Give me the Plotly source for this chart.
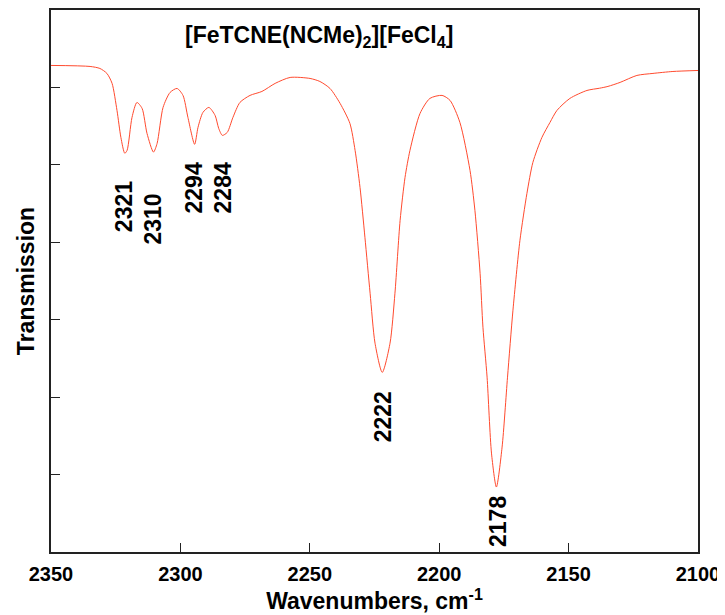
import plotly.graph_objects as go

# Spectrum (wavenumber in cm^-1, transmission in arbitrary units)
wavenumber = [2350.0, 2334.9, 2331.1, 2328.4, 2326.4, 2324.5, 2323.0, 2321.5, 2320.6, 2318.7,
              2316.8, 2314.8, 2312.9, 2310.4, 2309.0, 2306.7, 2304.0, 2301.3, 2299.0, 2297.1,
              2294.5, 2293.2, 2291.3, 2289.0, 2286.6, 2285.2, 2283.8, 2281.9, 2279.7, 2277.0,
              2273.1, 2268.5, 2263.4, 2257.6, 2249.9, 2246.1, 2242.2, 2238.3, 2234.5, 2232.5,
              2230.6, 2228.7, 2226.7, 2224.8, 2222.0, 2219.0, 2217.1, 2215.1, 2213.2, 2211.3,
              2207.4, 2203.6, 2198.9, 2195.8, 2192.0, 2188.1, 2186.2, 2184.2, 2183.1, 2181.5,
              2179.8, 2177.9, 2175.7, 2173.6, 2171.5, 2168.8, 2166.1, 2163.8, 2160.3, 2157.2,
              2154.5, 2149.5, 2142.9, 2138.0, 2134.8, 2130.1, 2123.6, 2117.4, 2109.7, 2100.0]
transmission = [6.284, 6.271, 6.245, 6.181, 6.052, 5.703, 5.355, 5.150, 5.187, 5.613,
                5.806, 5.729, 5.406, 5.165, 5.277, 5.742, 5.935, 5.987, 5.897, 5.613,
                5.265, 5.484, 5.677, 5.742, 5.639, 5.471, 5.381, 5.419, 5.613, 5.806,
                5.897, 5.948, 6.052, 6.129, 6.116, 6.077, 5.987, 5.794, 5.535, 5.187,
                4.710, 4.065, 3.342, 2.697, 2.320, 2.697, 3.342, 4.284, 4.839, 5.187,
                5.665, 5.858, 5.897, 5.832, 5.548, 4.929, 4.413, 3.600, 2.903, 2.258,
                1.277, 0.839, 1.355, 2.258, 3.123, 4.026, 4.632, 5.032, 5.355, 5.548,
                5.703, 5.858, 5.961, 5.990, 6.013, 6.065, 6.155, 6.181, 6.206, 6.219]

# Peak labels: text, x position (cm^-1) and y position (transmission units)
peak_labels = ["2321", "2310", "2294", "2284", "2222", "2178"]
peak_label_x = [2322.0, 2310.4, 2294.6, 2283.4, 2221.7, 2177.3]
peak_label_y = [4.46, 4.30, 4.70, 4.70, 1.74, 0.40]

x_ticks = [2350, 2300, 2250, 2200, 2150, 2100]
y_ticks = [0, 1, 2, 3, 4, 5, 6, 7]

title_text = "[FeTCNE(NCMe)<sub>2</sub>][FeCl<sub>4</sub>]"
x_title = "Wavenumbers, cm<sup>-1</sup>"
y_title = "Transmission"

FONT = "Liberation Sans, Arial, sans-serif"

fig = go.Figure()
fig.add_trace(go.Scatter(
    x=wavenumber, y=transmission, mode="lines",
    line=dict(color="#FF4A2E", width=1, shape="spline", smoothing=0.7),
    hoverinfo="skip", showlegend=False,
))

for t, xv, yv in zip(peak_labels, peak_label_x, peak_label_y):
    fig.add_annotation(
        x=xv, y=yv, xref="x", yref="y", text="<b>%s</b>" % t,
        showarrow=False, textangle=-90,
        font=dict(family=FONT, size=23, color="black"),
        xanchor="center", yanchor="middle",
    )

fig.add_annotation(
    x=0.414, y=0.952, xref="paper", yref="paper", text="<b>%s</b>" % title_text,
    showarrow=False, font=dict(family=FONT, size=23, color="black"),
    xanchor="center", yanchor="middle",
)

# The page body adds an 8px margin, so the figure is sized to fit the 725x615 window.
fig.update_layout(
    width=717, height=607,
    margin=dict(l=43, r=27, t=2, b=63),
    paper_bgcolor="white", plot_bgcolor="white",
    font=dict(family=FONT, color="black"),
    showlegend=False,
)
fig.update_xaxes(
    range=[2350, 2100], tickvals=x_ticks, ticktext=["<b>%d</b>" % v for v in x_ticks],
    ticks="inside", ticklen=9, tickwidth=1, tickcolor="#222",
    showline=True, linecolor="#222", linewidth=1.5, mirror=True,
    showgrid=False, zeroline=False,
    tickfont=dict(family=FONT, size=20, color="black"),
    ticklabelstandoff=3,
    title=dict(text="<b>%s</b>" % x_title, font=dict(family=FONT, size=23, color="black"), standoff=8),
    automargin=False,
)
fig.update_yaxes(
    range=[0, 7], tickvals=y_ticks, showticklabels=False,
    ticks="inside", ticklen=9, tickwidth=1, tickcolor="#222",
    showline=True, linecolor="#222", linewidth=1.5, mirror=True,
    showgrid=False, zeroline=False,
    title=dict(text="<b>%s</b>" % y_title, font=dict(family=FONT, size=23, color="black"), standoff=8),
    automargin=False,
)

fig.write_html("out.html")
